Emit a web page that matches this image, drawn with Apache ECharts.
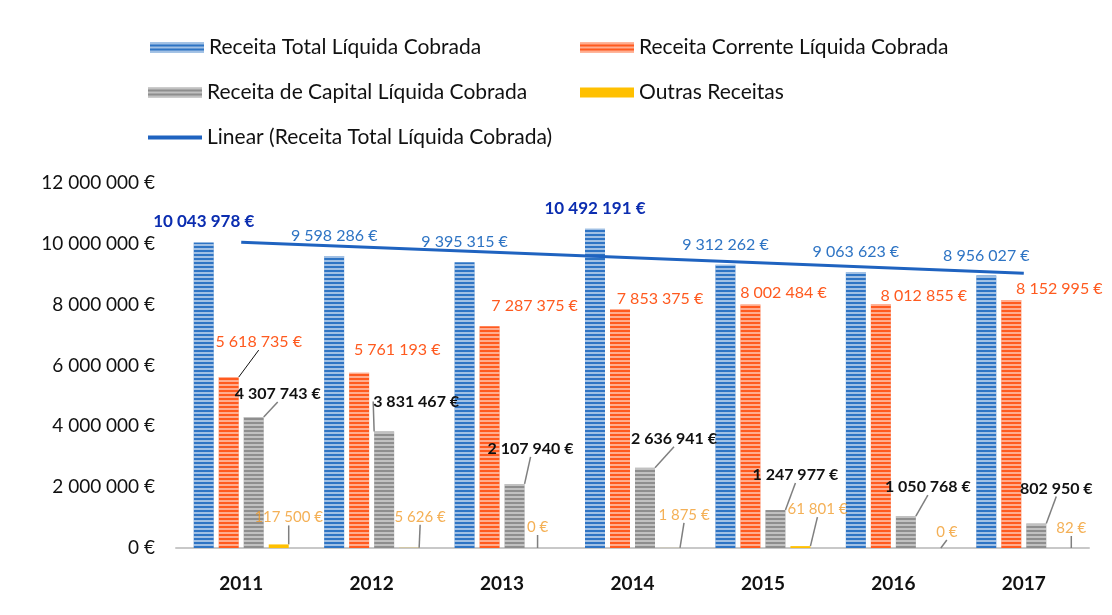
<!DOCTYPE html>
<html>
<head>
<meta charset="utf-8">
<script src="https://cdn.jsdelivr.net/npm/echarts@6/dist/echarts.min.js"></script>
<style>
  html, body { margin: 0; background: #fff; }
  #main { width: 1112px; height: 615px; }
</style>
</head>
<body>
<div id="main"></div>
<script>
// dados
var anos = ['2011', '2012', '2013', '2014', '2015', '2016', '2017'];
var receitaTotal = [10043978, 9598286, 9395315, 10492191, 9312262, 9063623, 8956027];
var receitaCorrente = [5618735, 5761193, 7287375, 7853375, 8002484, 8012855, 8152995];
var receitaCapital = [4307743, 3831467, 2107940, 2636941, 1247977, 1050768, 802950];
var outrasReceitas = [117500, 5626, 0, 1875, 61801, 0, 82];
// linha de tendencia (so as pontas)
var tendencia = [10050000, null, null, null, null, null, 9030000];
var yMin = 0, yMax = 12000000, yStep = 2000000;

// layout das etiquetas: [dx, altura acima da barra]
var shiftCorrente = [[30, 35], [38, 23], [45, 20], [40, 10], [33, 12], [43, 8], [48, 11]];
var shiftCapital = [[24, 23], [32, 30], [16, 35], [29, 29], [20, 35], [22, 29], [20, 35]];
var shiftOutras = [[10, 27], [11, 31], [-2, 21], [14, 33], [17, 37], [16, 16], [10, 20]];
var destaque = [0, 3]; // etiquetas a negrito

var FONT = 'Lato, "Open Sans", sans-serif';

function euros(v) {
  return String(v).replace(/\B(?=(\d{3})+(?!\d))/g, ' ') + ' €';
}

function moveLabel(shift) {
  return function (p) {
    var s = shift[p.dataIndex];
    return { dx: s[0], dy: -(s[1] - 8) };
  };
}

function stripes(c) {
  return {
    symbol: 'rect',
    symbolSize: 1,
    dashArrayX: [1, 0],
    dashArrayY: [2, 2],
    color: c
  };
}

var totalData = receitaTotal.map(function (v, i) {
  if (destaque.indexOf(i) >= 0) {
    return { value: v, label: { color: '#0b2db0', fontWeight: 'bold', fontSize: 17 } };
  }
  return v;
});
var correnteData = receitaCorrente.map(function (v, i) {
  if (i == 0) return { value: v, labelLine: { show: true, lineStyle: { color: '#111' } } };
  return v;
});

var chart = echarts.init(document.getElementById('main'));

var legendBase = {
  itemWidth: 54,
  itemHeight: 10,
  padding: 0,
  textStyle: { fontFamily: FONT, fontSize: 21, color: '#111' },
  selectedMode: false
};

var option = {
  animation: false,
  backgroundColor: '#fff',
  textStyle: { fontFamily: FONT },
  grid: { left: 176, right: 23, top: 183, bottom: 67 },
  xAxis: {
    type: 'category',
    data: anos,
    axisTick: { show: false },
    axisLine: { lineStyle: { color: '#c8c8c8', width: 2 } },
    axisLabel: { fontFamily: FONT, fontSize: 19, fontWeight: 'bold', color: '#111', margin: 26 }
  },
  yAxis: {
    type: 'value',
    min: yMin,
    max: yMax,
    interval: yStep,
    splitLine: { show: false },
    axisLine: { show: false },
    axisLabel: { fontFamily: FONT, fontSize: 19, color: '#111', margin: 21, formatter: euros }
  },
  series: [
    {
      name: 'Receita Total Líquida Cobrada',
      type: 'bar',
      barWidth: 20,
      barGap: '25%',
      data: totalData,
      itemStyle: { color: '#2e74c4', decal: stripes('rgba(255,255,255,0.55)') },
      label: {
        show: true, position: 'top', distance: 12,
        fontFamily: FONT, fontSize: 16, color: '#2e74c4',
        formatter: function (p) { return euros(p.value); }
      }
    },
    {
      name: 'Receita Corrente Líquida Cobrada',
      type: 'bar',
      barWidth: 20,
      data: correnteData,
      itemStyle: { color: '#ff5a1f', decal: stripes('rgba(255,255,255,0.5)') },
      label: {
        show: true, position: 'top', distance: 0, lineHeight: 16,
        fontFamily: FONT, fontSize: 16, color: '#ff5a1f',
        formatter: function (p) { return euros(p.value); }
      },
      labelLayout: moveLabel(shiftCorrente)
    },
    {
      name: 'Receita de Capital Líquida Cobrada',
      type: 'bar',
      barWidth: 20,
      data: receitaCapital,
      itemStyle: { color: '#8e8e8e', decal: stripes('rgba(255,255,255,0.45)') },
      label: {
        show: true, position: 'top', distance: 0, lineHeight: 16,
        fontFamily: FONT, fontSize: 16, fontWeight: 'bold', color: '#111',
        formatter: function (p) { return euros(p.value); }
      },
      labelLine: { show: true, lineStyle: { color: '#7f7f7f', width: 1.5 } },
      labelLayout: moveLabel(shiftCapital)
    },
    {
      name: 'Outras Receitas',
      type: 'bar',
      barWidth: 20,
      data: outrasReceitas,
      itemStyle: { color: '#ffc000' },
      label: {
        show: true, position: 'top', distance: 0, lineHeight: 16,
        fontFamily: FONT, fontSize: 15, color: 'rgba(240,150,30,0.75)',
        formatter: function (p) { return euros(p.value); }
      },
      labelLine: { show: true, lineStyle: { color: '#7f7f7f', width: 1.5 } },
      labelLayout: moveLabel(shiftOutras)
    },
    {
      name: 'Linear (Receita Total Líquida Cobrada)',
      type: 'line',
      data: tendencia,
      connectNulls: true,
      symbol: 'none',
      z: 5,
      lineStyle: { color: '#1f63c0', width: 3 },
      itemStyle: { color: '#1f63c0' }
    }
  ]
};

option.legend = [
  Object.assign({}, legendBase, { left: 150, top: 37, data: [{ name: 'Receita Total Líquida Cobrada', icon: 'rect' }] }),
  Object.assign({}, legendBase, { left: 580, top: 37, data: [{ name: 'Receita Corrente Líquida Cobrada', icon: 'rect' }] }),
  Object.assign({}, legendBase, { left: 148, top: 82, data: [{ name: 'Receita de Capital Líquida Cobrada', icon: 'rect' }] }),
  Object.assign({}, legendBase, { left: 580, top: 82, data: [{ name: 'Outras Receitas', icon: 'rect' }] }),
  Object.assign({}, legendBase, { left: 148, top: 127, itemHeight: 4, data: [{ name: 'Linear (Receita Total Líquida Cobrada)', icon: 'rect' }] })
];

chart.setOption(option);
</script>
</body>
</html>
